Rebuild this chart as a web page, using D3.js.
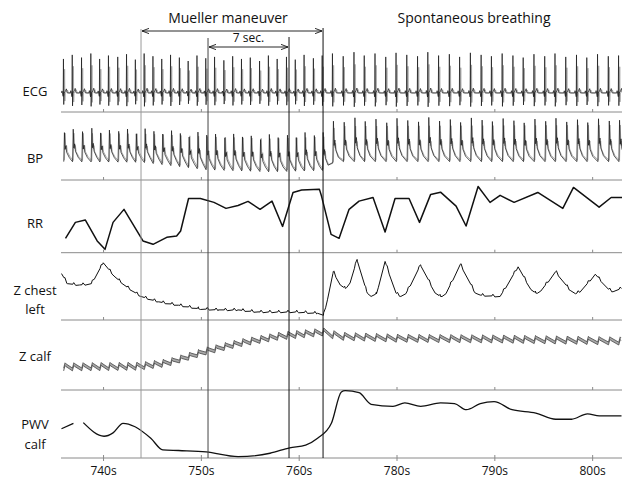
<!DOCTYPE html>
<html>
<head>
<meta charset="utf-8">
<script src="https://cdn.jsdelivr.net/npm/d3@7"></script>
<style>
  body { margin: 0; background: #fff; }
  text { font-family: "Open Sans", "DejaVu Sans", sans-serif; fill: #111; }
</style>
</head>
<body>
<svg id="chart" width="622" height="479"></svg>
<script>
// ---- data (time in s) ----
const tickValues = [740, 750, 760, 770, 780, 790];
const tickLabels = ["740s", "750s", "760s", "780s", "790s", "800s"];
const panelNames = [["ECG"], ["BP"], ["RR"], ["Z chest", "left"], ["Z calf"], ["PWV", "calf"]];

// maneuver markers: Mueller start, 7 sec window start/end, release
const eventTimes = [743.83, 750.68, 758.96, 762.44];

// R-peak times of each heart beat
const beatTimes = [
  735.9, 736.8, 737.75, 738.7, 739.6, 740.5, 741.45, 742.35, 743.25, 744.15,
  745.05, 745.95, 746.85, 747.75, 748.65, 749.55, 750.45, 751.35, 752.3, 753.2,
  754.1, 755.0, 755.95, 756.85, 757.75, 758.7, 759.6, 760.5, 761.45, 762.35,
  763.4, 764.5, 765.6, 766.65, 767.75, 768.85, 769.9, 771.0, 772.1, 773.15,
  774.25, 775.35, 776.4, 777.5, 778.6, 779.65, 780.75, 781.85, 782.9, 784.0,
  785.1, 786.15, 787.25, 788.35, 789.4, 790.5, 791.6, 792.65
];
// R-peak height of each beat (panel units above baseline)
const ecgAmps = [
  50, 56, 52, 58, 50, 55, 53, 57, 49, 58, 54, 50, 56, 52, 47, 55, 51, 53, 48, 54,
  50, 52, 47, 55, 50, 53, 49, 56, 51, 55,
  58, 54, 60, 55, 58, 53, 59, 56, 54, 60, 55, 57, 53, 59, 56, 54, 58, 55, 52, 57,
  54, 58, 53, 56, 52, 57, 54, 55
];

// beat shapes: [offset from R peak in s, relative value]
const ecgShape = [[-0.2, 0], [-0.15, 0.06], [-0.1, 0], [-0.03, -0.1], [0, 1], [0.03, -0.34], [0.06, 0], [0.2, 0.05], [0.3, 0.12], [0.4, 0]];
const bpShape = [[0.03, 0], [0.1, 1], [0.17, 0.42], [0.25, 0.55], [0.33, 0.32], [0.6, 0.14]];
const calfShape = [[0.02, -3.8], [0.16, 3.8], [0.24, 2.6]];
const rippleShape = [[0.05, 0], [0.15, 2.6], [0.35, -1.2]];

// BP envelope (panel units 0-100)
const bpTimes = [735.6, 744, 750.5, 757, 762.4, 763.6, 793];
const bpSys = [74, 73, 70, 67, 70, 86, 88];
const bpDia = [27, 26, 15, 12, 14, 27, 27];

// RR interval (ms)
const rrTimes = [736.11, 737.12, 738.13, 739.35, 740.15, 740.97, 742.09, 744.03, 745.06, 746.46, 747.47, 747.88, 748.69, 749.9, 751.29, 752.52, 753.75, 754.77, 756.0, 757.22, 758.3, 759.37, 760.25, 762.07, 762.28, 763.26, 764.08, 765.1, 766.12, 767.55, 768.78, 769.8, 771.23, 772.3, 773.44, 774.45, 776.04, 777.06, 778.29, 779.51, 780.54, 781.97, 784.39, 786.95, 788.04, 790.66, 791.89, 793.0];
const rrValues = [693, 807, 824, 674, 614, 807, 900, 674, 650, 700, 709, 745, 978, 978, 950, 907, 928, 957, 900, 959, 778, 1021, 1038, 1043, 995, 721, 693, 900, 959, 985, 738, 978, 978, 807, 1007, 1023, 923, 781, 1064, 950, 1000, 950, 1021, 907, 1057, 916, 985, 985];

// thoracic impedance, left (panel units)
const chestTimes = [735.7, 736.31, 737.53, 738.75, 739.97, 741.17, 742.4, 743.82, 745.64, 747.67, 749.7, 751.73, 753.75, 755.79, 757.82, 759.84, 761.88, 762.48, 762.89, 763.49, 764.2, 764.71, 765.2, 765.92, 766.9, 767.35, 767.9, 768.78, 769.9, 770.39, 770.9, 772.42, 773.9, 774.45, 775.0, 776.48, 778.0, 778.51, 780.54, 782.38, 783.7, 784.19, 784.7, 786.22, 787.7, 788.25, 788.8, 790.27, 791.6, 792.09, 792.95];
const chestValues = [69, 54, 52, 54, 85, 64, 49, 35, 27, 22, 17, 15, 15, 12, 12, 12, 10, 7, 30, 72, 52, 47, 55, 90, 42, 35, 39, 87, 40, 35, 39, 82, 40, 35, 39, 83, 40, 37, 35, 79, 45, 40, 43, 72, 44, 39, 43, 68, 46, 42, 47];

// calf impedance trend (panel units)
const calfTimes = [735.7, 743.63, 746.46, 750.48, 753.75, 757.84, 762.44, 763.87, 770.01, 780.13, 792.91];
const calfValues = [33, 34, 39, 56, 67, 77, 83, 77, 74, 73, 70];

// pulse wave velocity, calf (panel units, null = gap)
const pwvTimes = [735.7, 736.92, 737.4, 737.93, 740.05, 740.97, 741.99, 743.22, 744.83, 746.05, 747.67, 750.48, 753.75, 757.02, 759.03, 760.66, 761.88, 763.29, 764.31, 764.71, 766.12, 767.35, 769.59, 770.8, 772.42, 774.45, 775.88, 777.09, 778.51, 779.92, 781.76, 784.19, 786.22, 787.84, 789.47, 790.68, 792.95];
const pwvValues = [43, 51, null, 52, 32, 37, 51, 46, 29, 12, 11, 9, 2, 7, 15, 19, 29, 51, 97, 99, 96, 79, 76, 81, 76, 81, 80, 71, 80, 83, 71, 66, 57, 57, 65, 62, 62];

// ---- layout ----
const svg = d3.select("#chart");
const left = 61, right = 622, topY = 44;
const bottoms = [112, 180, 252.7, 320, 390, 458];
const labelY = [[91], [158], [223], [290, 309], [356], [424, 444]];

const x = d3.scaleLinear().domain([735.65, 793.0]).range([left, right]);

function panelY(i, domain) {
  return d3.scaleLinear().domain(domain).range([bottoms[i], i ? bottoms[i - 1] : topY]);
}

function beatTrace(shape, shift, valueAt) {
  const pts = [];
  beatTimes.forEach((b, i) => {
    shape.forEach(([dt, v]) => pts.push([b + dt + shift, valueAt(b, v, i)]));
  });
  return pts;
}

svg.append("defs").append("clipPath").attr("id", "plot")
  .append("rect").attr("x", left).attr("y", 0).attr("width", right - left).attr("height", 479);

const plot = svg.append("g").attr("clip-path", "url(#plot)");

// separators with ticks
bottoms.forEach((b, i) => {
  plot.append("line").attr("x1", left).attr("x2", right).attr("y1", b).attr("y2", b)
    .attr("stroke", "#8a8a8a").attr("stroke-width", 1);
  plot.selectAll(null).data(tickValues).enter().append("line")
    .attr("x1", d => x(d)).attr("x2", d => x(d))
    .attr("y1", b - 3).attr("y2", i === bottoms.length - 1 ? b + 3 : b)
    .attr("stroke", "#8a8a8a").attr("stroke-width", 1);
});

// ECG
const yEcg = panelY(0, [0, 100]);
const ecgLine = d3.line().x(d => x(d[0])).y(d => yEcg(d[1]));
plot.append("path").attr("d", ecgLine(beatTrace(ecgShape, 0.12, (b, v, i) => 28 + v * ecgAmps[i] * 0.7)))
  .attr("fill", "none").attr("stroke", "#a0a0a0").attr("stroke-width", 0.8);
plot.append("path").attr("d", ecgLine(beatTrace(ecgShape, 0, (b, v, i) => 28 + v * ecgAmps[i])))
  .attr("fill", "none").attr("stroke", "#111").attr("stroke-width", 0.7);

// BP
const yBp = panelY(1, [0, 100]);
const sysAt = d3.scaleLinear().domain(bpTimes).range(bpSys);
const diaAt = d3.scaleLinear().domain(bpTimes).range(bpDia);
const bpLine = d3.line().x(d => x(d[0])).y(d => yBp(d[1]));
plot.append("path").attr("d", bpLine(beatTrace(bpShape, 0.07, (b, v) => diaAt(b) + 2 + v * 0.85 * (sysAt(b) - diaAt(b)))))
  .attr("fill", "none").attr("stroke", "#9a9a9a").attr("stroke-width", 0.8);
plot.append("path").attr("d", bpLine(beatTrace(bpShape, 0, (b, v, i) => diaAt(b) + v * (sysAt(b) - diaAt(b)) * ecgAmps[i] / 55)))
  .attr("fill", "none").attr("stroke", "#111").attr("stroke-width", 0.7);

// RR
const yRr = panelY(2, [590, 1110]);
plot.append("path")
  .attr("d", d3.line().x(d => x(d[0])).y(d => yRr(d[1]))(d3.zip(rrTimes, rrValues)))
  .attr("fill", "none").attr("stroke", "#111").attr("stroke-width", 1.5).attr("stroke-linejoin", "round");

// Z chest left (breathing curve with small cardiac ripple)
const yChest = panelY(3, [0, 100]);
const chestAt = d3.scaleLinear().domain(chestTimes).range(chestValues);
const chestPts = beatTrace(rippleShape, 0, (b, v) => v)
  .concat(chestTimes.map(t => [t, 0]))
  .sort((a, b) => a[0] - b[0])
  .filter(d => d[0] >= chestTimes[0] && d[0] <= chestTimes[chestTimes.length - 1])
  .map(d => [d[0], chestAt(d[0]) + d[1]]);
plot.append("path")
  .attr("d", d3.line().x(d => x(d[0])).y(d => yChest(d[1]))(chestPts))
  .attr("fill", "none").attr("stroke", "#111").attr("stroke-width", 1);

// Z calf (ribbon)
const yCalf = panelY(4, [0, 100]);
const calfAt = d3.scaleLinear().domain(calfTimes).range(calfValues);
const calfPts = beatTrace(calfShape, 0, (b, v) => calfAt(b) + v);
plot.append("path")
  .attr("d", d3.area().x(d => x(d[0])).y0(d => yCalf(d[1] - 2)).y1(d => yCalf(d[1] + 2))(calfPts))
  .attr("fill", "#a8a8a8").attr("stroke", "none");
[-2, 2].forEach(off => {
  plot.append("path")
    .attr("d", d3.line().x(d => x(d[0])).y(d => yCalf(d[1] + off))(calfPts))
    .attr("fill", "none").attr("stroke", "#333").attr("stroke-width", 0.7);
});

// PWV calf
const yPwv = panelY(5, [0, 100]);
plot.append("path")
  .attr("d", d3.line().defined(d => d[1] != null).curve(d3.curveMonotoneX)
    .x(d => x(d[0])).y(d => yPwv(d[1]))(d3.zip(pwvTimes, pwvValues)))
  .attr("fill", "none").attr("stroke", "#111").attr("stroke-width", 1.3);

// event lines and brackets
const evColors = ["#9a9a9a", "#444", "#111", "#111"];
const evTops = [29, 38, 37, 28];
eventTimes.forEach((t, i) => {
  svg.append("line").attr("x1", x(t)).attr("x2", x(t)).attr("y1", evTops[i]).attr("y2", bottoms[5])
    .attr("stroke", evColors[i]).attr("stroke-width", 1);
});

const marker = svg.select("defs").append("marker").attr("id", "arr")
  .attr("viewBox", "0 -4 8 8").attr("refX", 8).attr("refY", 0)
  .attr("markerWidth", 7).attr("markerHeight", 7).attr("orient", "auto-start-reverse")
  .attr("markerUnits", "userSpaceOnUse");
marker.append("path").attr("d", "M0,-3 L8,0 L0,3").attr("fill", "none").attr("stroke", "#111").attr("stroke-width", 1);

[[0, 3, 31], [1, 2, 47]].forEach(([a, b, yy]) => {
  svg.append("line").attr("x1", x(eventTimes[a]) + 1).attr("x2", x(eventTimes[b]) - 1)
    .attr("y1", yy).attr("y2", yy).attr("stroke", "#111").attr("stroke-width", 0.9)
    .attr("marker-start", "url(#arr)").attr("marker-end", "url(#arr)");
});

svg.append("text").attr("x", 228).attr("y", 23).attr("text-anchor", "middle")
  .attr("font-size", 14).text("Mueller maneuver");
svg.append("text").attr("x", 474).attr("y", 23).attr("text-anchor", "middle")
  .attr("font-size", 14).text("Spontaneous breathing");
svg.append("text").attr("x", (x(eventTimes[1]) + x(eventTimes[2])) / 2).attr("y", 42)
  .attr("text-anchor", "middle").attr("font-size", 12).text("7 sec.");

// panel labels
panelNames.forEach((lines, i) => {
  lines.forEach((s, j) => {
    svg.append("text").attr("x", 35).attr("y", labelY[i][j]).attr("dy", "0.35em")
      .attr("text-anchor", "middle").attr("font-size", 13).text(s);
  });
});

// bottom axis labels
svg.selectAll(".tl").data(tickValues).enter().append("text")
  .attr("x", d => x(d)).attr("y", 475).attr("text-anchor", "middle")
  .attr("font-size", 12).text((d, i) => tickLabels[i]);
</script>
</body>
</html>
